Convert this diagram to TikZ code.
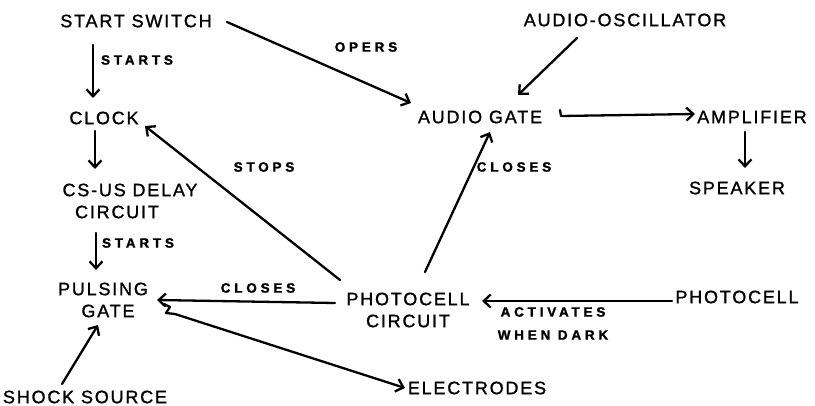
\documentclass[tikz,border=0pt]{standalone}
\usepackage{fontspec}
\newfontfamily\mainfam{Liberation Sans}[LetterSpace=10,FakeBold=1.2]
\newfontfamily\lblfam{Liberation Sans Bold}[LetterSpace=28,FakeBold=1.5]
\usetikzlibrary{arrows.meta}
\begin{document}
\begin{tikzpicture}[x=1pt,y=-1pt,
  box/.style={inner sep=0pt,align=center,font=\mainfam\fontsize{18}{23}\selectfont},
  lab/.style={inner sep=0pt,align=center,font=\lblfam\fontsize{13.5}{23}\selectfont},
  conn/.style={line width=2.3pt,-{Straight Barb[length=7pt,width=13pt,line width=2.3pt]},line cap=round,line join=round}]
\useasboundingbox (0,0) rectangle (815,406);
% nodes
\node[box] (ss) at (136,21) {START SWITCH};
\node[box] (clock) at (104,118) {CLOCK};
\node[box] (delay) at (130,201) {CS-US DELAY\\[-1pt]\hspace*{-26pt}CIRCUIT};
\node[box] (pulse) at (103,300) {PULSING\\[-1pt]\hspace*{10pt}GATE};
\node[box] (shock) at (85,397) {SHOCK SOURCE};
\node[box] (elec) at (477,388) {ELECTRODES};
\node[box] (pcirc) at (408,310) {PHOTOCELL\\[-1pt]CIRCUIT};
\node[box] (agate) at (480,117) {AUDIO GATE};
\node[box] (osc) at (625,20) {AUDIO-OSCILLATOR};
\node[box] (amp) at (752,117) {AMPLIFIER};
\node[box] (spk) at (737,188) {SPEAKER};
\node[box] (pcell) at (737,297) {PHOTOCELL};
% labels
\node[lab] (lstarts1) at (137,60) {STARTS};
\node[lab] (lopers) at (366,47) {OPERS};
\node[lab] (lstarts2) at (138,243) {STARTS};
\node[lab] (lstops) at (264,167) {STOPS};
\node[lab] (lcloses1) at (258,288) {CLOSES};
\node[lab] (lcloses2) at (514,167) {CLOSES};
\node[lab] (lact) at (553,312) {ACTIVATES};
\node[lab] (ldark) at (553,335) {WHEN DARK};
% connectors
\draw[conn] ([shift={(-43,24)}]ss.center) -- ([shift={(-11,-20)}]clock.center);
\draw[conn] ([shift={(91,1)}]ss.center) -- ([shift={(-69,-14)}]agate.center);
\draw[conn] ([shift={(-9,13)}]clock.center) -- ([shift={(-35,-32)}]delay.center);
\draw[conn] ([shift={(-34,32)}]delay.center) -- ([shift={(-7,-30)}]pulse.center);
\draw[conn] ([shift={(-23,-13)}]shock.center) -- ([shift={(-5,25)}]pulse.center);
\draw[conn] ([shift={(-73,-7)}]pcirc.center) -- ([shift={(54,0)}]pulse.center);
\draw[conn] ([shift={(61,4)}]pulse.center) -- ++(6,3) -- ++(-4,6) -- ++(9,1) -- ([shift={(-72,0)}]elec.center);
\draw[conn] ([shift={(-68,-30)}]pcirc.center) -- ([shift={(41,8)}]clock.center);
\draw[conn] ([shift={(17,-38)}]pcirc.center) -- ([shift={(10,15)}]agate.center);
\draw[conn] ([shift={(-48,18)}]osc.center) -- ([shift={(38,-22)}]agate.center);
\draw[conn] ([shift={(80,-7)}]agate.center) -- ++(1,6) -- ([shift={(-57,-3)}]amp.center);
\draw[conn] ([shift={(-7,15)}]amp.center) -- ([shift={(-7,51)}]amp.center);
\draw[conn] ([shift={(-65,4)}]pcell.center) -- ([shift={(74,-9)}]pcirc.center);
\end{tikzpicture}
\end{document}
